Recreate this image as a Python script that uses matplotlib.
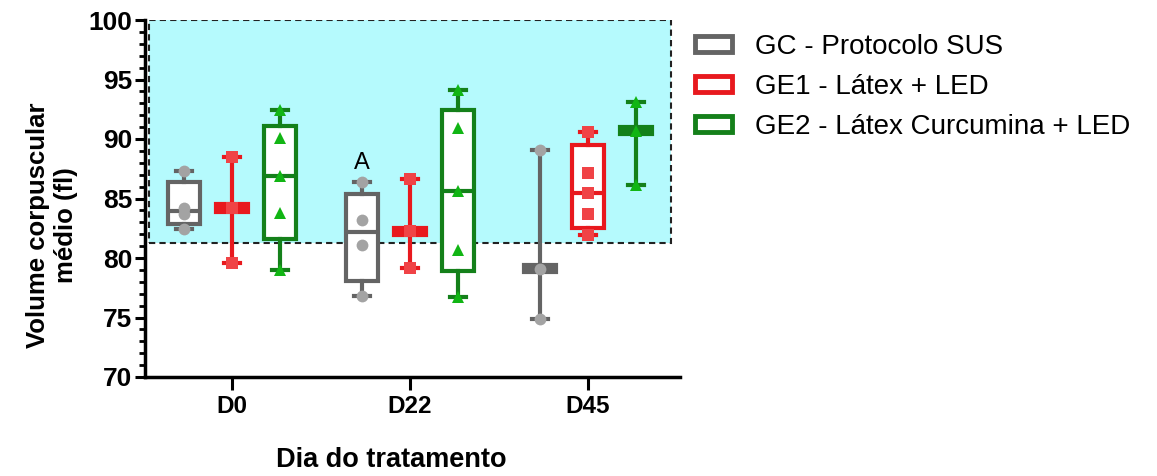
import matplotlib

matplotlib.use("Agg")
import matplotlib.patches as mpatches
import matplotlib.pyplot as plt
from matplotlib.ticker import MultipleLocator

plt.rcParams["font.family"] = ["Liberation Sans", "DejaVu Sans"]

# -- Data ---------------------------------------------------------------------
DAYS = ["D0", "D22", "D45"]
GROUP_LABELS = ["GC - Protocolo SUS", "GE1 - Látex + LED", "GE2 - Látex Curcumina + LED"]

# individual values per day
GC_POINTS = [[82.4, 83.7, 84.2, 87.3], [76.8, 81.1, 83.2, 86.4], [74.9, 79.1, 89.1]]
GE1_POINTS = [[79.6, 84.2, 88.5], [79.2, 82.25, 86.6], [81.9, 83.7, 85.5, 87.15, 90.6]]
GE2_POINTS = [[79.0, 83.8, 86.9, 90.1, 92.4], [76.7, 80.7, 85.6, 90.9, 94.1], [86.1, 90.7, 93.1]]

# box (q1, median, q3) per day
GC_BOX = [(82.85, 83.95, 86.4), (78.1, 82.2, 85.4), (78.8, 79.1, 79.4)]
GE1_BOX = [(83.9, 84.2, 84.5), (81.95, 82.25, 82.55), (82.5, 85.5, 89.5)]
GE2_BOX = [(81.6, 86.9, 91.1), (78.9, 85.6, 92.4), (90.4, 90.7, 91.0)]

REF_LOW, REF_HIGH = 81.3, 100.0  # shaded reference range
SIG_DAY, SIG_LABEL, SIG_Y = 1, "A", 88.0

# -- Styles -------------------------------------------------------------------
BOX_COLORS = ["#646464", "#E8191E", "#14801A"]
PT_COLORS = ["#A3A3A3", "#F04346", "#11B514"]
MARKERS = ["o", "s", "^"]
OFFSETS = [-0.27, 0.0, 0.27]

fig = plt.figure(figsize=(11.57, 4.76), dpi=100)
ax = fig.add_axes([145 / 1157, 1 - 377 / 476, 535 / 1157, 357 / 476])

ax.add_patch(
    mpatches.Rectangle(
        (-0.47, REF_LOW), 2.94, REF_HIGH - REF_LOW,
        facecolor="#B5FAFD", edgecolor="#222222", linestyle=(0, (3, 2)),
        linewidth=1.5, zorder=0,
    )
)

groups = [(GC_POINTS, GC_BOX), (GE1_POINTS, GE1_BOX), (GE2_POINTS, GE2_BOX)]
for g, (points, boxes) in enumerate(groups):
    stats = []
    pos = []
    for d, (pts, (q1, med, q3)) in enumerate(zip(points, boxes)):
        stats.append(dict(med=med, q1=q1, q3=q3, whislo=min(pts), whishi=max(pts), fliers=[]))
        pos.append(d + OFFSETS[g])
    col = BOX_COLORS[g]
    art = ax.bxp(
        stats, positions=pos, widths=0.18, capwidths=0.09, patch_artist=True,
        showfliers=False,
        boxprops=dict(edgecolor=col, facecolor="white", linewidth=3),
        medianprops=dict(color=col, linewidth=3, solid_capstyle="butt"),
        whiskerprops=dict(color=col, linewidth=3),
        capprops=dict(color=col, linewidth=3),
        zorder=3,
    )
    for box, (q1, med, q3) in zip(art["boxes"], boxes):
        if q3 - q1 < 1.0:
            box.set_facecolor(col)
    for d, pts in enumerate(points):
        ax.plot(
            [d + OFFSETS[g]] * len(pts), pts, linestyle="none", marker=MARKERS[g],
            markersize=8.5, color=PT_COLORS[g], markeredgewidth=0, zorder=4,
        )

ax.text(SIG_DAY + OFFSETS[0], SIG_Y, SIG_LABEL, ha="center", va="center", fontsize=17)

ax.set_xlim(-0.49, 2.52)
ax.set_ylim(70, 100)
ax.set_xticks(range(len(DAYS)))
ax.set_xticklabels(DAYS, fontsize=17.5, fontweight="bold")
ax.yaxis.set_major_locator(MultipleLocator(5))
ax.yaxis.set_minor_locator(MultipleLocator(1))
for lab in ax.get_yticklabels():
    lab.set_fontsize(19)
    lab.set_fontweight("bold")
ax.tick_params(axis="y", which="major", length=7, width=2.2, pad=2)
ax.tick_params(axis="y", which="minor", length=4, width=2.0)
ax.tick_params(axis="x", which="major", length=9, width=2.2, pad=4)
for s in ["top", "right"]:
    ax.spines[s].set_visible(False)
for s in ["left", "bottom"]:
    ax.spines[s].set_linewidth(2.5)

fig.text(52 / 1157, 1 - 225 / 476, "Volume corpuscular\nmédio (fl)", rotation=90,
         ha="center", va="center", fontsize=18.5, fontweight="bold", multialignment="center")
fig.text(391 / 1157, 1 - 460 / 476, "Dia do tratamento", ha="center", va="center",
         fontsize=19.5, fontweight="bold")

handles = [
    mpatches.Patch(facecolor="white", edgecolor=c, linewidth=3.5, label=l)
    for c, l in zip(BOX_COLORS, GROUP_LABELS)
]
fig.legend(
    handles=handles, loc="upper left", bbox_to_anchor=(695 / 1157, 1 - 34 / 476),
    frameon=False, fontsize=20, handlelength=1.33, handleheight=0.54,
    handletextpad=0.83, labelspacing=0.5, borderpad=0, borderaxespad=0,
)

fig.savefig("out.png", dpi=100)
